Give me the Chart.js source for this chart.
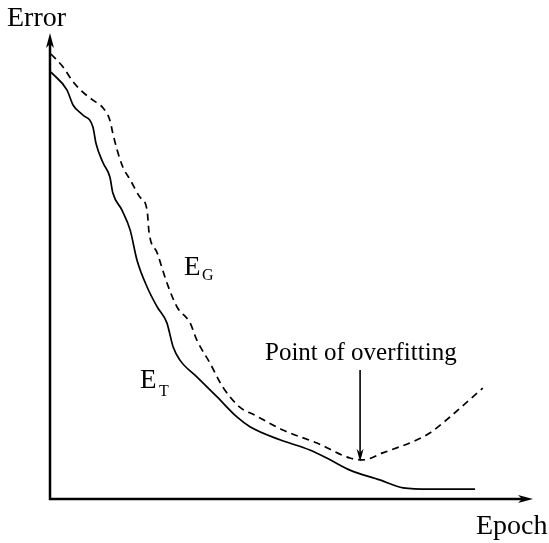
<!DOCTYPE html>
<html>
<head>
<meta charset="utf-8">
<script src="https://cdn.jsdelivr.net/npm/chart.js@4/dist/chart.umd.min.js"></script>
<style>
  html, body { margin: 0; padding: 0; background: #fff; }
  #c { display: block; }
</style>
</head>
<body>
<canvas id="c" width="549" height="543"></canvas>
<script>
// Training error E_T (solid)
const epochsT = [0.2, 3.5, 4.8, 6.8, 8.9, 9.5, 11.0, 12.4, 13.0, 14.9, 16.6, 18.0, 20.1, 22.2, 24.2, 25.5, 26.9, 30.4, 34.6, 38.7, 41.4, 47.6, 53.8, 58.0, 62.1, 68.3, 73.1, 78.7, 88.0];
const errorT  = [91.6, 87.8, 84.5, 82.4, 79.8, 76.4, 72.1, 69.1, 65.7, 62.0, 57.7, 51.3, 45.5, 41.2, 37.8, 32.6, 29.8, 26.2, 21.9, 17.6, 15.5, 12.7, 10.5, 8.4, 6.2, 4.1, 2.4, 2.1, 2.1];

// Generalisation error E_G (dashed)
const epochsG = [0.2, 2.7, 4.8, 6.8, 8.9, 11.0, 12.4, 13.0, 13.9, 15.1, 16.6, 18.6, 20.1, 20.5, 22.2, 24.2, 26.3, 29.0, 30.4, 33.1, 35.8, 39.3, 42.4, 48.2, 55.3, 62.1, 64.8, 68.9, 76.0, 78.7, 82.8, 89.6];
const errorG  = [95.5, 92.7, 89.5, 87.3, 85.6, 83.9, 81.3, 78.5, 74.9, 71.2, 68.5, 64.8, 62.0, 57.3, 52.8, 46.4, 41.2, 37.8, 34.1, 29.2, 24.0, 19.7, 18.0, 14.8, 12.0, 8.8, 8.4, 9.9, 12.7, 14.2, 17.6, 23.8];

// Annotation
const overfitEpoch = 64.2;
const overfitArrowFrom = 27.7;
const overfitArrowTo = 8.0;

const axisTitles = { y: 'Error', x: 'Epoch' };
const overfitLabel = 'Point of overfitting';

const SERIF = '"Liberation Serif", "Times New Roman", serif';

function pts(xs, ys) { return xs.map((x, i) => ({ x: x, y: ys[i] })); }

function arrowHead(ctx, x, y, dir, len, half) {
  ctx.beginPath();
  if (dir === 'up') {
    ctx.moveTo(x, y); ctx.lineTo(x - half, y + len); ctx.lineTo(x, y + len - 4); ctx.lineTo(x + half, y + len);
  } else if (dir === 'down') {
    ctx.moveTo(x, y); ctx.lineTo(x - half, y - len); ctx.lineTo(x, y - len + 4); ctx.lineTo(x + half, y - len);
  } else {
    ctx.moveTo(x, y); ctx.lineTo(x - len, y - half); ctx.lineTo(x - len + 4, y); ctx.lineTo(x - len, y + half);
  }
  ctx.closePath();
  ctx.fill();
}

const decor = {
  id: 'decor',
  afterDraw(chart) {
    const ctx = chart.ctx;
    const a = chart.chartArea;
    const xs = chart.scales.x, ys = chart.scales.y;
    ctx.save();
    ctx.strokeStyle = '#000';
    ctx.fillStyle = '#000';
    ctx.setLineDash([]);
    // axes
    ctx.lineWidth = 2.5;
    ctx.beginPath();
    ctx.moveTo(a.left, a.top + 8);
    ctx.lineTo(a.left, a.bottom);
    ctx.lineTo(a.right - 8, a.bottom);
    ctx.stroke();
    arrowHead(ctx, a.left, a.top, 'up', 15, 4);
    arrowHead(ctx, a.right, a.bottom, 'right', 15, 4);

    // overfitting arrow
    const ax = xs.getPixelForValue(overfitEpoch);
    const ay0 = ys.getPixelForValue(overfitArrowFrom);
    const ay1 = ys.getPixelForValue(overfitArrowTo);
    ctx.lineWidth = 1.6;
    ctx.beginPath();
    ctx.moveTo(ax, ay0);
    ctx.lineTo(ax, ay1 - 8);
    ctx.stroke();
    arrowHead(ctx, ax, ay1, 'down', 13, 3.5);

    // texts
    ctx.textBaseline = 'alphabetic';
    ctx.textAlign = 'left';
    ctx.font = '28px ' + SERIF;
    ctx.fillText(axisTitles.y, 7, 26);
    ctx.fillText(axisTitles.x, 476, 534);

    ctx.font = '25px ' + SERIF;
    ctx.fillText(overfitLabel, 265, 360);

    ctx.font = '27px ' + SERIF;
    ctx.fillText('E', 184, 275);
    ctx.fillText('E', 140, 388);
    ctx.font = '16px ' + SERIF;
    ctx.fillText('G', 202, 280);
    ctx.fillText('T', 159, 396);
    ctx.restore();
  }
};

new Chart(document.getElementById('c'), {
  type: 'line',
  data: {
    datasets: [
      {
        label: 'E_T',
        data: pts(epochsT, errorT),
        borderColor: '#000',
        borderWidth: 1.7,
        pointRadius: 0,
        fill: false,
        cubicInterpolationMode: 'monotone'
      },
      {
        label: 'E_G',
        data: pts(epochsG, errorG),
        borderColor: '#000',
        borderWidth: 1.7,
        borderDash: [7, 5],
        pointRadius: 0,
        fill: false,
        cubicInterpolationMode: 'monotone'
      }
    ]
  },
  options: {
    responsive: false,
    animation: false,
    devicePixelRatio: 1,
    layout: { padding: { left: 50, right: 16, top: 33, bottom: 44 } },
    plugins: { legend: { display: false }, tooltip: { enabled: false } },
    scales: {
      x: { type: 'linear', min: 0, max: 100, display: false },
      y: { type: 'linear', min: 0, max: 100, display: false }
    }
  },
  plugins: [decor]
});
</script>
</body>
</html>
